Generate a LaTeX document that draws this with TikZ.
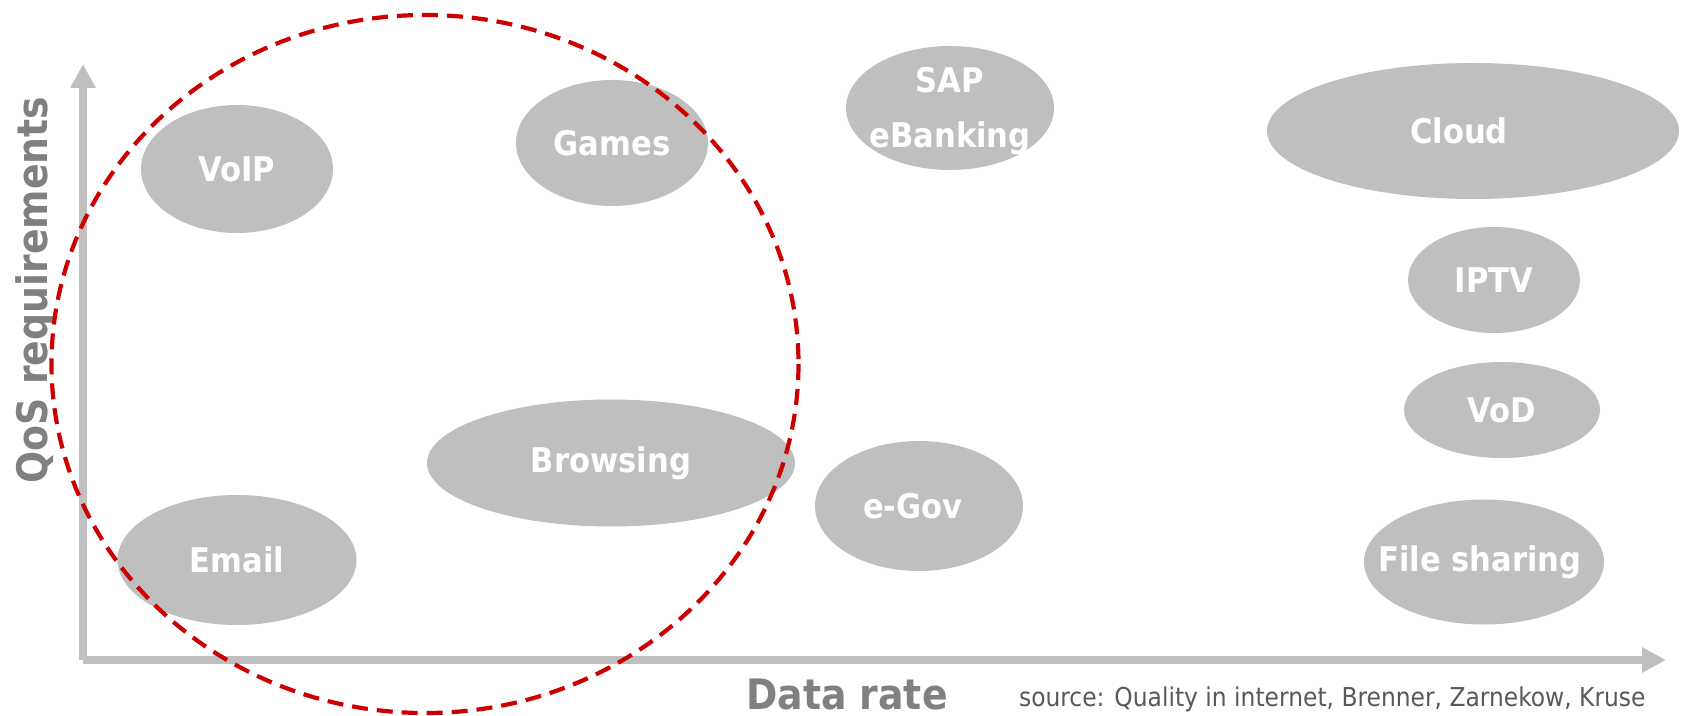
\documentclass[tikz,border=0pt]{standalone}
\usepackage{fontspec}
\setmainfont{DejaVu Sans Condensed}
\usetikzlibrary{shapes.geometric, arrows.meta}

\definecolor{bubblegray}{RGB}{191,191,191}
\definecolor{labelgray}{RGB}{128,128,128}
\definecolor{sourcegray}{RGB}{89,89,89}
\definecolor{circlered}{RGB}{204,0,0}

\tikzset{
	bubble/.style={ellipse, fill=bubblegray, inner sep=0pt},
	bubtext/.style={text=white, font=\bfseries\fontsize{17}{27.5}\selectfont, align=center},
	axis/.style={bubblegray, line width=3.75pt, -{Triangle[length=12pt, width=12pt]}},
	axislabel/.style={text=labelgray, font=\bfseries\fontsize{21}{25}\selectfont},
}

\begin{document}
\begin{tikzpicture}[x=0.5pt, y=-0.5pt] % one unit is one pixel, y runs downwards
	\useasboundingbox (0,0) rectangle (1688,716);

	% axes
	\coordinate (origin) at (83,660);
	\coordinate (ytip) at (83,64);
	\coordinate (xtip) at (1666,660);
	\draw[axis] (origin) -- (ytip);
	\draw[axis] (origin) -- (xtip);

	\node[axislabel] (xlabel) at (847,694) {Data rate};
	\node[axislabel, rotate=90] (ylabel) at (36,290) {QoS requirements};
	\node[text=sourcegray, font=\fontsize{13}{15}\selectfont, anchor=base west] (source) at (1012,706) {source: Quality in internet, Brenner, Zarnekow, Kruse};

	% services, minimum width/height in pt = radius in px
	\node[bubble, minimum width=96pt, minimum height=64pt] (voip) at (237,169) {};
	\node[bubble, minimum width=96pt, minimum height=63pt] (games) at (612,143) {};
	\node[bubble, minimum width=104pt, minimum height=62pt] (sap) at (950,108) {};
	\node[bubble, minimum width=206pt, minimum height=68pt] (cloud) at (1473,131) {};
	\node[bubble, minimum width=86pt, minimum height=53pt] (iptv) at (1494,280) {};
	\node[bubble, minimum width=98pt, minimum height=48pt] (vod) at (1502,410) {};
	\node[bubble, minimum width=184pt, minimum height=63.5pt] (browsing) at (611,463) {};
	\node[bubble, minimum width=104pt, minimum height=65pt] (egov) at (919,506) {};
	\node[bubble, minimum width=119.5pt, minimum height=65pt] (email) at (237,560) {};
	\node[bubble, minimum width=120pt, minimum height=62.5pt] (filesharing) at (1484,562) {};

	\node[bubtext] (voiptext) at (voip) {VoIP};
	\node[bubtext] (gamestext) at (games) {Games};
	\node[bubtext] (saptext) at ([yshift=-1.5pt]sap.center) {SAP\\eBanking};
	\node[bubtext] (cloudtext) at ([xshift=-7pt]cloud.center) {Cloud};
	\node[bubtext] (iptvtext) at (iptv) {IPTV};
	\node[bubtext] (vodtext) at (vod) {VoD};
	\node[bubtext] (browsingtext) at (browsing) {Browsing};
	\node[bubtext] (egovtext) at ([xshift=-3pt]egov.center) {e-Gov};
	\node[bubtext] (emailtext) at (email) {Email};
	\node[bubtext] (filesharingtext) at ([xshift=-2pt]filesharing.center) {File sharing};

	% low data rate area
	\draw[circlered, line width=2.1pt, dash pattern=on 8pt off 4.5pt] (425,364) ellipse (373.5 and 349);

\end{tikzpicture}
\end{document}
